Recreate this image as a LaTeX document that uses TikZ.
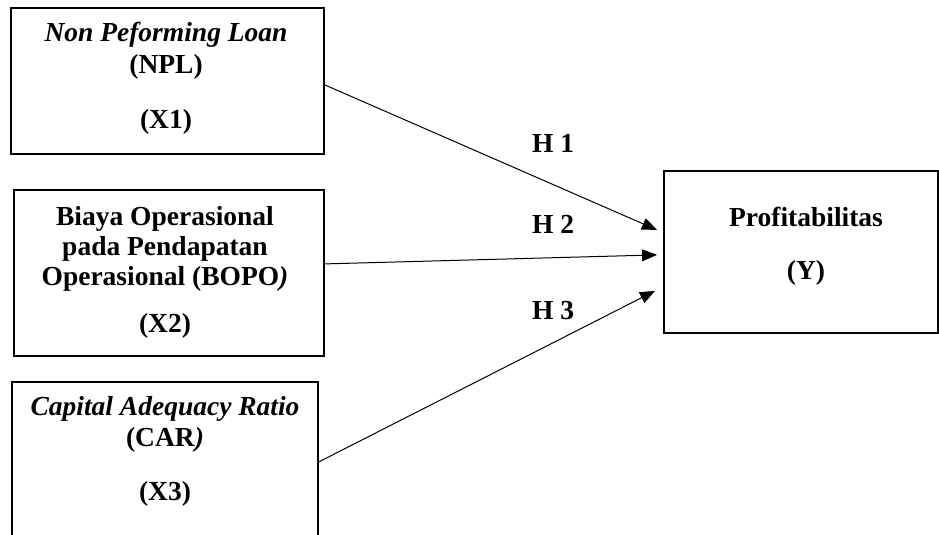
\documentclass[tikz,border=0pt]{standalone}
\usepackage{fontspec}
\setmainfont{Liberation Serif}
\usetikzlibrary{arrows.meta}
\begin{document}
\begin{tikzpicture}[x=1pt,y=-1pt,
  box/.style={draw, line width=1.8pt, inner sep=0pt, anchor=north west},
  txt/.style={font=\fontsize{27.5}{31}\selectfont\bfseries, anchor=base, inner sep=0pt},
  arr/.style={-{Triangle[length=15pt,width=12pt]}, line width=1pt}]
\useasboundingbox (0,0) rectangle (939,535);
% boxes
\node[box, minimum width=313pt, minimum height=146pt] (b1) at (10,7) {};
\node[box, minimum width=310pt, minimum height=166pt] (b2) at (13,189) {};
\node[box, minimum width=306pt, minimum height=170pt] (b3) at (11,381) {};
\node[box, minimum width=274pt, minimum height=162pt] (by) at (663,170) {};
% texts
\node[txt] (n1a) at (166,42) {\textit{Non Peforming Loan}};
\node[txt] (n1b) at (166,74) {(NPL)};
\node[txt] (n1c) at (166,128) {(X1)};
\node[txt] (n2a) at (165,225) {Biaya Operasional};
\node[txt] (n2b) at (165,255) {pada Pendapatan};
\node[txt] (n2c) at (165,285) {Operasional (BOPO\textit{)}};
\node[txt] (n2d) at (165,332) {(X2)};
\node[txt] (n3a) at (165,415) {\textit{Capital Adequacy Ratio}};
\node[txt] (n3b) at (165,446) {(CAR\textit{)}};
\node[txt] (n3c) at (165,500) {(X3)};
\node[txt] (nya) at (806,226) {Profitabilitas};
\node[txt] (nyb) at (806,279) {(Y)};
% hypothesis labels
\node[txt] (h1) at (553,152) {H 1};
\node[txt] (h2) at (553,233) {H 2};
\node[txt] (h3) at (553,319) {H 3};
% connectors
\draw[arr] ([yshift=-4pt]b1.east) -- ([xshift=-6pt,yshift=22pt]by.west);
\draw[arr] ([yshift=9pt]b2.east) -- ([xshift=-6pt,yshift=-3pt]by.west);
\draw[arr] ([yshift=5pt]b3.east) -- ([xshift=-8pt,yshift=-39pt]by.west);
\end{tikzpicture}
\end{document}
